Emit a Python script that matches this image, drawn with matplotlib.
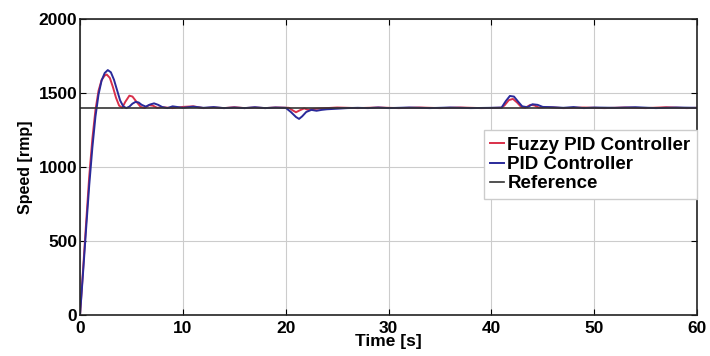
import matplotlib
matplotlib.use("Agg")
import matplotlib.pyplot as plt

# time [s] and speed [rpm]
pid_t = [0, 0.3, 0.6, 0.9, 1.2, 1.5, 1.8, 2.1, 2.4, 2.7, 3.0, 3.3, 3.6, 3.9, 4.2, 4.5,
         4.8, 5.1, 5.4, 5.7, 6.0, 6.4, 6.8, 7.2, 7.6, 8.0, 8.5, 9.0, 9.5, 10, 11, 12,
         13, 14, 15, 16, 17, 18, 19, 20, 20.5, 21.0, 21.3, 21.6, 22.0, 22.5, 23.0,
         23.5, 24, 25, 26, 27, 28, 29, 30, 32, 34, 36, 38, 40, 41.0, 41.4, 41.8, 42.2,
         42.6, 43.0, 43.5, 44.0, 44.5, 45.0, 46, 47, 48, 49, 50, 52, 54, 56, 58, 60]
pid_v = [0, 290, 590, 880, 1130, 1340, 1490, 1585, 1635, 1655, 1640, 1590, 1520, 1450,
         1410, 1398, 1408, 1428, 1440, 1436, 1420, 1408, 1422, 1430, 1420, 1405, 1398,
         1410, 1405, 1400, 1408, 1400, 1405, 1398, 1402, 1398, 1404, 1398, 1402, 1400,
         1372, 1338, 1325, 1342, 1372, 1386, 1380, 1386, 1390, 1394, 1398, 1400, 1398,
         1402, 1398, 1402, 1398, 1402, 1398, 1400, 1402, 1445, 1480, 1476, 1442, 1410,
         1404, 1424, 1420, 1406, 1404, 1400, 1405, 1398, 1402, 1400, 1404, 1398, 1402, 1400]

fuzzy_t = [0, 0.3, 0.6, 0.9, 1.2, 1.5, 1.8, 2.1, 2.4, 2.6, 2.9, 3.2, 3.5, 3.8, 4.1, 4.4,
           4.8, 5.1, 5.5, 5.9, 6.3, 6.7, 7.1, 7.5, 8, 9, 10, 11, 12, 13, 14, 15, 16, 17,
           18, 19, 20.3, 20.7, 21.0, 21.4, 21.8, 22.2, 22.7, 23.5, 25, 27, 29, 31, 33,
           35, 37, 39, 41.0, 41.3, 41.7, 42.1, 42.5, 42.9, 43.3, 43.8, 44.2, 44.6, 45.5,
           47, 49, 51, 53, 55, 57, 59, 60]
fuzzy_v = [0, 310, 630, 940, 1190, 1385, 1515, 1588, 1618, 1625, 1602, 1540, 1468, 1415,
           1400, 1440, 1482, 1476, 1440, 1406, 1398, 1418, 1414, 1400, 1404, 1398, 1406,
           1410, 1398, 1402, 1398, 1404, 1398, 1402, 1398, 1402, 1400, 1382, 1370, 1384,
           1396, 1386, 1392, 1396, 1402, 1398, 1402, 1398, 1402, 1398, 1402, 1398, 1400,
           1418, 1452, 1460, 1436, 1406, 1400, 1420, 1416, 1402, 1404, 1398, 1402, 1398,
           1402, 1398, 1404, 1398, 1400]

ref_t = [0, 60]
ref_v = [1400, 1400]

plt.rcParams['font.family'] = ['Liberation Sans', 'DejaVu Sans']
plt.rcParams['font.weight'] = 'bold'

fig = plt.figure(figsize=(7.1, 3.56), dpi=100)
ax = fig.add_axes([0.1127, 0.1152, 0.869, 0.8314])

ax.plot(fuzzy_t, fuzzy_v, color='#d9304a', lw=1.4, label='Fuzzy PID Controller')
ax.plot(pid_t, pid_v, color='#2a2a9a', lw=1.4, label='PID Controller')
ax.plot(ref_t, ref_v, color='#333333', lw=1.2, label='Reference')

ax.set_xlim(0, 60)
ax.set_ylim(0, 2000)
ax.set_xticks([0, 10, 20, 30, 40, 50, 60])
ax.set_yticks([0, 500, 1000, 1500, 2000])
ax.grid(True, color='#cccccc', lw=0.8)
ax.tick_params(direction='in', top=True, right=True, labelsize=12.5, length=4)
ax.tick_params(axis='x', pad=4)
ax.tick_params(axis='y', pad=2)
for lab in ax.get_xticklabels() + ax.get_yticklabels():
    lab.set_fontweight('bold')
for s in ax.spines.values():
    s.set_linewidth(1.2)
    s.set_color('#222222')

ax.set_xlabel('Time [s]', fontsize=12.5, fontweight='bold', labelpad=-1)
ax.set_ylabel('Speed [rmp]', fontsize=11.5, fontweight='bold', labelpad=4)

leg = ax.legend(loc='upper right', bbox_to_anchor=(1.0, 0.625), fontsize=13.5,
                handlelength=0.7, handletextpad=0.2, borderpad=0.35, labelspacing=0.12,
                fancybox=False, framealpha=1, borderaxespad=0)
leg.get_frame().set_edgecolor('#cccccc')
for txt in leg.get_texts():
    txt.set_fontweight('bold')

fig.savefig('out.png', dpi=100)
